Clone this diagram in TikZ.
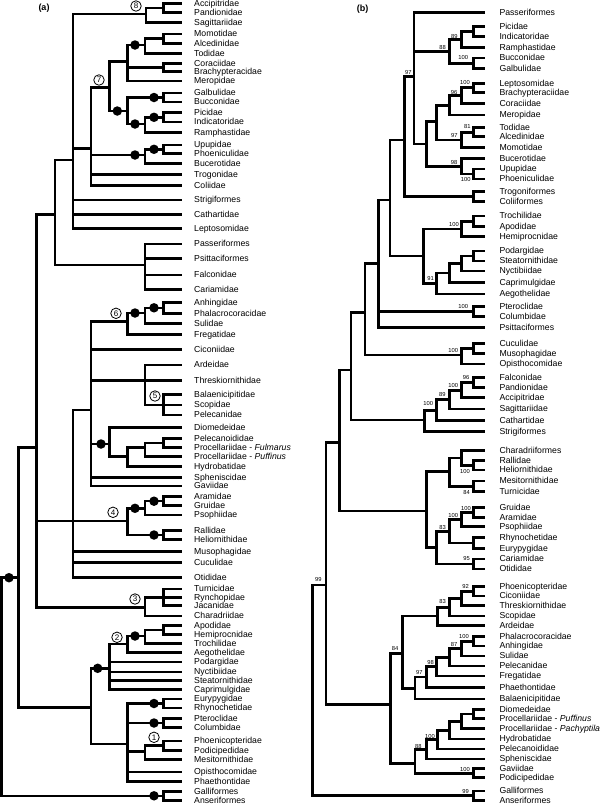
\documentclass[tikz,border=0pt]{standalone}
\usepackage{fontspec}
\setmainfont{Liberation Sans}
\newcommand\CN[3]{\coordinate (#1) at (#2,#3);}
\newcommand\LA[3]{\coordinate (#1) at (182,#2); \node[laba] (#1t) at (#1) {#3};}
\newcommand\LB[3]{\coordinate (#1) at (485,#2); \node[labb] (#1t) at (#1) {#3};}
\newcommand\Ea[2]{\foreach \ch in {#2}{\draw[bra] (#1) |- (\ch);}}
\newcommand\Eb[2]{\foreach \ch in {#2}{\draw[brb] (#1) |- (\ch);}}
\newcommand\DT[3]{\node[bdot] (#1) at (#2,#3) {};}
\newcommand\SP[4]{\node[suplab] (#1) at (#2,#3) {#4};}
\newcommand\CC[4]{\node[circnum] (#1) at (#2,#3) {#4};}
\begin{document}
\begin{tikzpicture}[x=1pt,y=-1pt,
 bra/.style={line width=2.5pt},
 brb/.style={line width=2.8pt},
 labbase/.style={anchor=west,inner sep=0pt,font=\fontsize{8.7}{9}\selectfont,text height=6.2pt,text depth=0.5pt},
 laba/.style={labbase,xshift=12pt},
 labb/.style={labbase,xshift=14.3pt},
 bdot/.style={circle,fill=black,inner sep=0pt,minimum size=9.5pt},
 circnum/.style={circle,draw,fill=white,line width=0.8pt,inner sep=0pt,minimum size=10.5pt,font=\fontsize{8}{8}\selectfont},
 suplab/.style={inner sep=0pt,font=\fontsize{5.8}{6}\selectfont},
 panlab/.style={inner sep=0pt,font=\bfseries\fontsize{9}{10}\selectfont}]
\useasboundingbox (0,0) rectangle (600,804);
\node[panlab] (pa) at (44,8) {(a)};
\node[panlab] (pb) at (362.7,9) {(b)};
% ---------------- panel (a) leaves
\LA{aAcc}{3.3}{Accipitridae}
\LA{aPan}{12.3}{Pandionidae}
\LA{aSag}{22.7}{Sagittariidae}
\LA{aMom}{34}{Momotidae}
\LA{aAlc}{43.3}{Alcedinidae}
\LA{aTod}{53.3}{Todidae}
\LA{aCor}{63.3}{Coraciidae}
\LA{aBra}{71.7}{Brachypteracidae}
\LA{aMer}{81}{Meropidae}
\LA{aGal}{93}{Galbulidae}
\LA{aBuc}{102}{Bucconidae}
\LA{aPic}{112.7}{Picidae}
\LA{aInd}{122}{Indicatoridae}
\LA{aRam}{132.3}{Ramphastidae}
\LA{aUpu}{145}{Upupidae}
\LA{aPho}{153.7}{Phoeniculidae}
\LA{aBuce}{163.7}{Bucerotidae}
\LA{aTro}{174.3}{Trogonidae}
\LA{aCol}{185.7}{Coliidae}
\LA{aStr}{200}{Strigiformes}
\LA{aCat}{214.3}{Cathartidae}
\LA{aLep}{228.3}{Leptosomidae}
\LA{aPas}{244}{Passeriformes}
\LA{aPsi}{258.3}{Psittaciformes}
\LA{aFal}{275}{Falconidae}
\LA{aCar}{289.3}{Cariamidae}
\LA{aAnh}{302.3}{Anhingidae}
\LA{aPha}{313.3}{Phalacrocoracidae}
\LA{aSul}{323.3}{Sulidae}
\LA{aFre}{334.7}{Fregatidae}
\LA{aCic}{349.3}{Ciconiidae}
\LA{aArd}{365}{Ardeidae}
\LA{aThr}{380.7}{Threskiornithidae}
\LA{aBal}{394.3}{Balaenicipitidae}
\LA{aSco}{405}{Scopidae}
\LA{aPel}{415}{Pelecanidae}
\LA{aDio}{427.7}{Diomedeidae}
\LA{aPeld}{438.3}{Pelecanoididae}
\LA{aFul}{447.7}{Procellariidae - \textit{Fulmarus}}
\LA{aPuf}{456.7}{Procellariidae - \textit{Puffinus}}
\LA{aHyd}{466.7}{Hydrobatidae}
\LA{aSph}{477.3}{Spheniscidae}
\LA{aGav}{486}{Gaviidae}
\LA{aAra}{496.7}{Aramidae}
\LA{aGru}{505.7}{Gruidae}
\LA{aPso}{515}{Psophiidae}
\LA{aRal}{530.7}{Rallidae}
\LA{aHel}{539.3}{Heliornithidae}
\LA{aMus}{551.7}{Musophagidae}
\LA{aCuc}{562.3}{Cuculidae}
\LA{aOti}{577.7}{Otididae}
\LA{aTur}{589}{Turnicidae}
\LA{aRyn}{597.3}{Rynchopidae}
\LA{aJac}{605.7}{Jacanidae}
\LA{aCha}{616}{Charadriidae}
\LA{aApo}{625.3}{Apodidae}
\LA{aHem}{634.3}{Hemiprocnidae}
\LA{aTrc}{643.3}{Trochilidae}
\LA{aAeg}{652.3}{Aegothelidae}
\LA{aPod}{662}{Podargidae}
\LA{aNyc}{672}{Nyctibiidae}
\LA{aSte}{680.3}{Steatornithidae}
\LA{aCap}{689.3}{Caprimulgidae}
\LA{aEur}{699}{Eurypygidae}
\LA{aRhy}{708}{Rhynochetidae}
\LA{aPte}{718.7}{Pteroclidae}
\LA{aClb}{727.3}{Columbidae}
\LA{aPhoe}{741}{Phoenicopteridae}
\LA{aPodi}{750.3}{Podicipedidae}
\LA{aMes}{759.3}{Mesitornithidae}
\LA{aOpi}{772}{Opisthocomidae}
\LA{aPht}{781.7}{Phaethontidae}
\LA{aGll}{791.3}{Galliformes}
\LA{aAns}{800.3}{Anseriformes}
% ---------------- panel (a) internal nodes
\CN{a0}{1.7}{685}
\CN{a1}{18.3}{577.7}
\CN{a2}{36.7}{447.7}
\CN{a3}{91}{707.3}
\CN{a4}{55}{214.3}
\CN{a5}{73}{521}
\CN{a6}{145}{607.7}
\CN{a7}{73}{160}
\CN{a8}{145}{265}
\CN{a9}{146}{14}
\CN{a10}{91}{148.3}
\CN{a11}{109.3}{87.7}
\CN{a12}{145}{155}
\CN{a13}{127.3}{61.7}
\CN{a14}{127.3}{111}
\CN{a15}{145}{45}
\CN{a16}{145}{124}
\CN{a17}{91}{410}
\CN{a18}{127.3}{521}
\CN{a19}{127.3}{321.7}
\CN{a20}{145}{380.7}
\CN{a21}{109.3}{444}
\CN{a22}{145}{313}
\CN{a23}{163.3}{405}
\CN{a24}{127.3}{456.7}
\CN{a25}{145}{447.7}
\CN{a26}{145}{508.3}
\CN{aT}{163.3}{597.3}
\CN{a27}{109.3}{668.3}
\CN{a28}{127.3}{744}
\CN{a29}{127.3}{644}
\CN{a30}{145}{636}
\CN{a31}{145}{751.7}
\CN{cA1}{163.3}{7.8}
\CN{cA2}{163.3}{38.7}
\CN{cA3}{163.3}{67.5}
\CN{cA4}{163.3}{97.5}
\CN{cA5}{163.3}{117.3}
\CN{cA6}{163.3}{149.3}
\CN{cA7}{163.3}{307.8}
\CN{cA8}{163.3}{443}
\CN{cA9}{163.3}{501.2}
\CN{cA10}{163.3}{535}
\CN{cA11}{163.3}{629.8}
\CN{cA12}{163.3}{703.5}
\CN{cA13}{163.3}{723}
\CN{cA14}{163.3}{745.7}
\CN{cA15}{163.3}{795.8}
% ---------------- panel (a) branches
\Ea{a0}{a1,cA15}
\Ea{a1}{a2,a3}
\Ea{a2}{a4,a5,a6}
\Ea{a4}{a7,a8}
\Ea{a7}{a9,a10,aStr,aCat,aLep}
\Ea{a9}{cA1,aSag}
\Ea{cA1}{aAcc,aPan}
\Ea{a10}{a11,a12,aTro,aCol}
\Ea{a11}{a13,a14}
\Ea{a13}{a15,cA3,aMer}
\Ea{a15}{cA2,aTod}
\Ea{cA2}{aMom,aAlc}
\Ea{cA3}{aCor,aBra}
\Ea{a14}{cA4,a16}
\Ea{cA4}{aGal,aBuc}
\Ea{a16}{cA5,aRam}
\Ea{cA5}{aPic,aInd}
\Ea{a12}{cA6,aBuce}
\Ea{cA6}{aUpu,aPho}
\Ea{a8}{aPas,aPsi,aFal,aCar}
\Ea{a5}{a17,a18,aMus,aCuc,aOti}
\Ea{a17}{a19,aCic,a20,a21,aSph,aGav}
\Ea{a19}{a22,aFre}
\Ea{a22}{cA7,aSul}
\Ea{cA7}{aAnh,aPha}
\Ea{a20}{aArd,aThr,a23}
\Ea{a23}{aBal,aSco,aPel}
\Ea{a21}{aDio,a24}
\Ea{a24}{a25,aHyd}
\Ea{a25}{cA8,aPuf}
\Ea{cA8}{aPeld,aFul}
\Ea{a18}{a26,cA10}
\Ea{a26}{cA9,aPso}
\Ea{cA9}{aAra,aGru}
\Ea{cA10}{aRal,aHel}
\Ea{a6}{aT,aCha}
\Ea{aT}{aTur,aRyn,aJac}
\Ea{a3}{a27,a28}
\Ea{a27}{a29,aPod,aNyc,aSte,aCap}
\Ea{a29}{a30,aAeg}
\Ea{a30}{cA11,aTrc}
\Ea{cA11}{aApo,aHem}
\Ea{a28}{cA12,cA13,a31,aOpi,aPht}
\Ea{cA12}{aEur,aRhy}
\Ea{cA13}{aPte,aClb}
\Ea{a31}{cA14,aMes}
\Ea{cA14}{aPhoe,aPodi}
\Ea{cA15}{aGll,aAns}
% ---------------- panel (a) dots
\DT{d1}{9}{577.7}
\DT{d2}{154}{795.8}
\DT{d3}{135}{45}
\DT{d4}{117.3}{111}
\DT{d5}{154}{97.5}
\DT{d6}{135}{124}
\DT{d7}{154}{117.3}
\DT{d8}{135}{155}
\DT{d9}{154}{149.3}
\DT{d10}{135}{313}
\DT{d11}{154}{307.8}
\DT{d12}{101}{444}
\DT{d13}{135}{508.3}
\DT{d14}{154}{501.2}
\DT{d15}{154}{535}
\DT{d16}{135}{636}
\DT{d17}{97.7}{668.3}
\DT{d18}{154}{703.5}
\DT{d19}{154}{723}
% ---------------- panel (a) circled numbers
\CC{k8}{136}{6}{8}
\CC{k7}{99}{80}{7}
\CC{k6}{116}{313.3}{6}
\CC{k5}{155}{396}{5}
\CC{k4}{113}{512.3}{4}
\CC{k3}{135}{599}{3}
\CC{k2}{117}{637.3}{2}
\CC{k1}{154}{737.3}{1}
% ---------------- panel (b) leaves
\LB{bPas}{12.3}{Passeriformes}
\LB{bPic}{26.7}{Picidae}
\LB{bInd}{36.7}{Indicatoridae}
\LB{bRam}{47.3}{Ramphastidae}
\LB{bBuc}{58}{Bucconidae}
\LB{bGal}{68.3}{Galbulidae}
\LB{bLep}{83.3}{Leptosomidae}
\LB{bBra}{92.3}{Brachypteraciidae}
\LB{bCor}{103.3}{Coraciidae}
\LB{bMer}{115}{Meropidae}
\LB{bTod}{127.7}{Todidae}
\LB{bAlc}{136.7}{Alcedinidae}
\LB{bMom}{147.7}{Momotidae}
\LB{bBuce}{158.3}{Bucerotidae}
\LB{bUpu}{169}{Upupidae}
\LB{bPho}{179}{Phoeniculidae}
\LB{bTrg}{191.7}{Trogoniformes}
\LB{bCli}{201.7}{Coliiformes}
\LB{bTrc}{216}{Trochilidae}
\LB{bApo}{226.3}{Apodidae}
\LB{bHem}{236.7}{Hemiprocnidae}
\LB{bPod}{251}{Podargidae}
\LB{bSte}{261}{Steatornithidae}
\LB{bNyc}{271}{Nyctibiidae}
\LB{bCap}{282.7}{Caprimulgidae}
\LB{bAeg}{294}{Aegothelidae}
\LB{bPte}{306.7}{Pteroclidae}
\LB{bClb}{316.7}{Columbidae}
\LB{bPsi}{327.3}{Psittaciformes}
\LB{bCuc}{343.3}{Cuculidae}
\LB{bMus}{353.3}{Musophagidae}
\LB{bOpi}{364}{Opisthocomidae}
\LB{bFal}{377.7}{Falconidae}
\LB{bPan}{387.7}{Pandionidae}
\LB{bAcc}{397.7}{Accipitridae}
\LB{bSag}{409}{Sagittariidae}
\LB{bCat}{420.7}{Cathartidae}
\LB{bStr}{431.7}{Strigiformes}
\LB{bCha}{450.7}{Charadriiformes}
\LB{bRal}{460.7}{Rallidae}
\LB{bHel}{470}{Heliornithidae}
\LB{bMes}{481}{Mesitornithidae}
\LB{bTur}{491.7}{Turnicidae}
\LB{bGru}{507.7}{Gruidae}
\LB{bAra}{517.3}{Aramidae}
\LB{bPso}{526.7}{Psophiidae}
\LB{bRhy}{537.7}{Rhynochetidae}
\LB{bEur}{548.3}{Eurypygidae}
\LB{bCar}{559}{Cariamidae}
\LB{bOti}{569}{Otididae}
\LB{bPhoe}{586.7}{Phoenicopteridae}
\LB{bCic}{596}{Ciconiidae}
\LB{bThr}{605.3}{Threskiornithidae}
\LB{bSco}{616}{Scopidae}
\LB{bArd}{625.3}{Ardeidae}
\LB{bPha}{636.7}{Phalacrocoracidae}
\LB{bAnh}{646}{Anhingidae}
\LB{bSul}{656}{Sulidae}
\LB{bPel}{666}{Pelecanidae}
\LB{bFre}{676}{Fregatidae}
\LB{bPht}{687.3}{Phaethontidae}
\LB{bBal}{699}{Balaenicipitidae}
\LB{bDio}{709.3}{Diomedeidae}
\LB{bPuf}{718.7}{Procellariidae - \textit{Puffinus}}
\LB{bPac}{728.7}{Procellariidae - \textit{Pachyptila}}
\LB{bHyd}{739}{Hydrobatidae}
\LB{bPeld}{749}{Pelecanoididae}
\LB{bSph}{759}{Spheniscidae}
\LB{bGav}{768.7}{Gaviidae}
\LB{bPodi}{777.7}{Podicipedidae}
\LB{bGll}{791}{Galliformes}
\LB{bAns}{800.3}{Anseriformes}
% ---------------- panel (b) internal nodes
\CN{b0}{312.7}{690}
\CN{b1}{326}{585}
\CN{b2}{339.3}{442.7}
\CN{b3}{390.7}{704.3}
\CN{b4}{351}{370}
\CN{b5}{426.7}{511}
\CN{b6}{365}{312.7}
\CN{b7}{424.3}{420}
\CN{b8}{378.3}{263.7}
\CN{b9}{461.7}{355}
\CN{b10}{390}{200}
\CN{b11}{404.3}{140}
\CN{b12}{423.3}{256}
\CN{b13}{414}{76.7}
\CN{b14}{449.3}{51.5}
\CN{b15}{426.7}{144}
\CN{b16}{461.7}{39.5}
\CN{b17}{436.7}{121.7}
\CN{b18}{461.7}{166.2}
\CN{b19}{449.3}{105.3}
\CN{b20}{461.7}{140}
\CN{b21}{461.7}{95.5}
\CN{b22}{461.7}{229}
\CN{b23}{436.7}{283.3}
\CN{b24}{449.3}{273}
\CN{b25}{461.7}{263.5}
\CN{b26}{436.7}{410.2}
\CN{b27}{449.3}{399.6}
\CN{b28}{461.7}{390.2}
\CN{b29}{449.3}{471.7}
\CN{b30}{436.7}{547.7}
\CN{b31}{461.7}{458}
\CN{b32}{449.3}{531.3}
\CN{b33}{461.7}{519.6}
\CN{b34}{402.7}{653.3}
\CN{b35}{415}{763.3}
\CN{b36}{437.7}{616}
\CN{b37}{415}{688.3}
\CN{b38}{449.3}{607.2}
\CN{b39}{461.7}{598.3}
\CN{b40}{426.7}{677}
\CN{b41}{436.7}{666.7}
\CN{b42}{449.3}{657.3}
\CN{b43}{461.7}{648.7}
\CN{b44}{426.7}{749.3}
\CN{b45}{437.7}{739.6}
\CN{b46}{449.3}{730.2}
\CN{b47}{461.7}{721.3}
\CN{cB1}{473.3}{31.7}
\CN{cB2}{473.3}{63.2}
\CN{cB3}{473.3}{87.8}
\CN{cB4}{473.3}{132.2}
\CN{cB5}{473.3}{174}
\CN{cB6}{473.3}{196.7}
\CN{cB7}{473.3}{221.2}
\CN{cB8}{473.3}{256}
\CN{cB9}{473.3}{311.7}
\CN{cB10}{473.3}{348.3}
\CN{cB11}{473.3}{382.7}
\CN{cB12}{473.3}{465.3}
\CN{cB13}{473.3}{486.3}
\CN{cB14}{473.3}{512.5}
\CN{cB15}{473.3}{543}
\CN{cB16}{473.3}{564}
\CN{cB17}{473.3}{591.3}
\CN{cB18}{473.3}{641.3}
\CN{cB19}{473.3}{714}
\CN{cB20}{473.3}{773.2}
\CN{cB21}{473.3}{795.7}
% ---------------- panel (b) branches
\Eb{b0}{b1,cB21}
\Eb{b1}{b2,b3}
\Eb{b2}{b4,b5}
\Eb{b4}{b6,b7}
\Eb{b6}{b8,b9}
\Eb{b8}{b10,cB9,bPsi}
\Eb{b10}{b11,b12}
\Eb{b11}{b13,cB6}
\Eb{b13}{bPas,b14,b15}
\Eb{b14}{b16,cB2}
\Eb{b16}{cB1,bRam}
\Eb{b15}{b17,b18}
\Eb{b17}{b19,b20}
\Eb{b19}{b21,bMer}
\Eb{b21}{cB3,bCor}
\Eb{b20}{cB4,bMom}
\Eb{b18}{bBuce,cB5}
\Eb{b12}{b22,b23}
\Eb{b22}{cB7,bHem}
\Eb{b23}{b24,bAeg}
\Eb{b24}{b25,bCap}
\Eb{b25}{cB8,bNyc}
\Eb{b9}{cB10,bOpi}
\Eb{b7}{b26,bStr}
\Eb{b26}{b27,bCat}
\Eb{b27}{b28,bSag}
\Eb{b28}{cB11,bAcc}
\Eb{b5}{b29,b30}
\Eb{b29}{b31,cB13}
\Eb{b31}{bCha,cB12}
\Eb{b30}{b32,cB16}
\Eb{b32}{b33,cB15}
\Eb{b33}{cB14,bPso}
\Eb{b3}{b34,b35}
\Eb{b34}{b36,b37}
\Eb{b36}{b38,bArd}
\Eb{b38}{b39,bSco}
\Eb{b39}{cB17,bThr}
\Eb{b37}{b40,bBal}
\Eb{b40}{b41,bPht}
\Eb{b41}{b42,bFre}
\Eb{b42}{b43,bPel}
\Eb{b43}{cB18,bSul}
\Eb{b35}{b44,cB20}
\Eb{b44}{b45,bSph}
\Eb{b45}{b46,bPeld}
\Eb{b46}{b47,bHyd}
\Eb{b47}{cB19,bPac}
\Eb{cB1}{bPic,bInd}
\Eb{cB2}{bBuc,bGal}
\Eb{cB3}{bLep,bBra}
\Eb{cB4}{bTod,bAlc}
\Eb{cB5}{bUpu,bPho}
\Eb{cB6}{bTrg,bCli}
\Eb{cB7}{bTrc,bApo}
\Eb{cB8}{bPod,bSte}
\Eb{cB9}{bPte,bClb}
\Eb{cB10}{bCuc,bMus}
\Eb{cB11}{bFal,bPan}
\Eb{cB12}{bRal,bHel}
\Eb{cB13}{bMes,bTur}
\Eb{cB14}{bGru,bAra}
\Eb{cB15}{bRhy,bEur}
\Eb{cB16}{bCar,bOti}
\Eb{cB17}{bPhoe,bCic}
\Eb{cB18}{bPha,bAnh}
\Eb{cB19}{bDio,bPuf}
\Eb{cB20}{bGav,bPodi}
\Eb{cB21}{bGll,bAns}
% ---------------- panel (b) support values
\SP{s1}{408.3}{72.7}{97}
\SP{s2}{454.3}{36}{89}
\SP{s3}{442.7}{47.7}{88}
\SP{s4}{463.3}{57.7}{100}
\SP{s5}{465}{82.7}{100}
\SP{s6}{454}{92.7}{96}
\SP{s7}{467.3}{126}{81}
\SP{s8}{454.3}{135}{97}
\SP{s9}{454}{162.3}{98}
\SP{s10}{465.7}{179.3}{100}
\SP{s11}{454}{224.3}{100}
\SP{s12}{430.7}{278.3}{91}
\SP{s13}{463.3}{306}{100}
\SP{s14}{453.3}{350}{100}
\SP{s15}{466}{377.7}{96}
\SP{s16}{453.3}{385.7}{100}
\SP{s17}{442.3}{394.3}{89}
\SP{s18}{428.3}{403.3}{100}
\SP{s19}{465}{471}{100}
\SP{s20}{466.7}{492.3}{84}
\SP{s21}{466}{508.3}{100}
\SP{s22}{453.3}{515}{100}
\SP{s23}{442.7}{527.7}{83}
\SP{s24}{466.7}{558.3}{95}
\SP{s25}{318.3}{579.3}{99}
\SP{s26}{465.7}{586.7}{92}
\SP{s27}{442.7}{601.7}{83}
\SP{s28}{464}{636.7}{100}
\SP{s29}{454}{644}{87}
\SP{s30}{395}{648.7}{84}
\SP{s31}{430.7}{662.7}{98}
\SP{s32}{419.3}{672.7}{97}
\SP{s33}{430}{736.7}{100}
\SP{s34}{418.3}{746}{88}
\SP{s35}{465}{769.3}{100}
\SP{s36}{465.7}{791.7}{99}
\end{tikzpicture}
\end{document}
